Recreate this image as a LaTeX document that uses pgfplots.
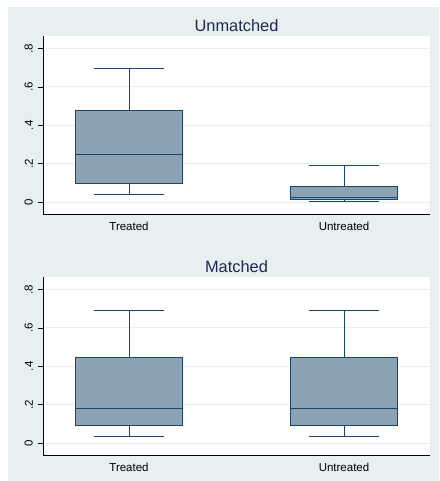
\documentclass[border=0pt]{standalone}
\usepackage{fontspec}
\setmainfont{Liberation Sans}
\usepackage{pgfplots}
\pgfplotsset{compat=1.18}
\usepgfplotslibrary{statistics}
\definecolor{bgc}{HTML}{E8EFF1}
\definecolor{gridc}{HTML}{E8F0F1}
\definecolor{boxfill}{HTML}{8CA2B5}
\definecolor{navy}{HTML}{1A476F}
\definecolor{titlec}{HTML}{1C2A52}
\pgfplotsset{
  panel/.style={
    scale only axis, width=387pt, height=178pt,
    xmin=-0.40, xmax=1.40, ymin=-0.0625, ymax=0.865,
    axis x line*=bottom, axis y line*=left,
    axis line style={line width=0.9pt, black, -},
    axis background/.style={fill=white},
    xtick={0,1}, xticklabels={Treated,Untreated},
    xtick style={draw=none},
    ytick={0,0.2,0.4,0.6,0.8}, yticklabels={0,.2,.4,.6,.8},
    tick align=outside, major tick length=5pt,
    ytick style={black, line width=0.6pt},
    ymajorgrids, grid style={gridc, line width=1pt},
    ticklabel style={font=\fontsize{11.5}{12}\selectfont, text=black},
    yticklabel style={rotate=90, anchor=south, inner sep=0pt},
    yticklabel shift=5pt,
    xticklabel style={anchor=north, inner sep=0pt},
    xticklabel shift=3pt,
    title style={at={(0.5,1)}, anchor=base, yshift=-1.5pt,
      font=\fontsize{16.4}{18}\selectfont, text=titlec},
    boxplot/draw direction=y,
    boxplot/box extend=0.494,
    boxplot/whisker extend=0.33,
  },
  bx/.style={fill=boxfill, draw=navy, line width=0.9pt, solid},
}
\begin{document}
\begin{tikzpicture}
\useasboundingbox (0,0) rectangle (439pt,481pt);
\fill[white] (0,0) rectangle (439pt,481pt);
\fill[bgc] (8pt,0) rectangle (439pt,474pt);
\begin{axis}[panel, at={(43pt,267pt)}, anchor=south west, title={Unmatched}]
\addplot[bx, boxplot prepared={lower whisker=0.040, lower quartile=0.095, median=0.248, upper quartile=0.476, upper whisker=0.694, draw position=0}] coordinates {};
\addplot[bx, boxplot prepared={lower whisker=0.002, lower quartile=0.013, median=0.026, upper quartile=0.080, upper whisker=0.189, draw position=1}] coordinates {};
\end{axis}
\begin{axis}[panel, at={(43pt,26pt)}, anchor=south west, title={Matched}]
\addplot[bx, boxplot prepared={lower whisker=0.036, lower quartile=0.092, median=0.181, upper quartile=0.448, upper whisker=0.693, draw position=0}] coordinates {};
\addplot[bx, boxplot prepared={lower whisker=0.036, lower quartile=0.092, median=0.181, upper quartile=0.448, upper whisker=0.693, draw position=1}] coordinates {};
\end{axis}
\end{tikzpicture}
\end{document}
